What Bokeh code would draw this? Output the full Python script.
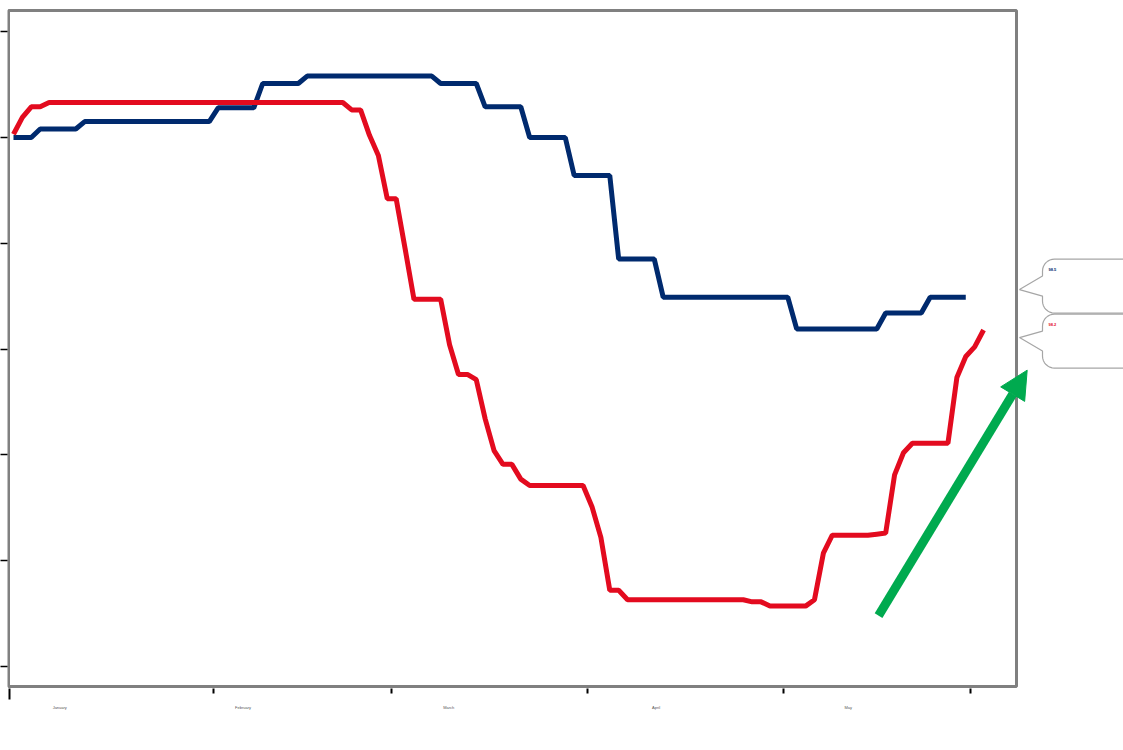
import numpy as np
from bokeh.plotting import figure
from bokeh.models import FixedTicker, LinearAxis, Range1d, Arrow, NormalHead
from bokeh.core.properties import value
from bokeh.embed import file_html
from bokeh.resources import INLINE

# Daily index levels (start = 100), one value per trading day
blue_values = (
    [100.00] * 3 + [100.08] * 5 + [100.15] * 15 + [100.28] * 5 + [100.51] * 5
    + [100.58] * 15 + [100.51] * 5 + [100.29] * 5 + [100.00] * 5 + [99.64] * 5
    + [98.85] * 5 + [98.49] * 15 + [98.19] * 10 + [98.34] * 5 + [98.49] * 5
)
red_values = (
    [100.03, 100.19, 100.29, 100.29] + [100.33] * 34
    + [100.26, 100.26, 100.02, 99.83, 99.42, 99.42, 98.95]
    + [98.47] * 4
    + [98.04, 97.76, 97.76, 97.71, 97.34, 97.04, 96.91, 96.91, 96.77]
    + [96.71] * 7
    + [96.51, 96.22, 95.72, 95.72]
    + [95.63] * 14
    + [95.61, 95.61]
    + [95.57] * 5
    + [95.63, 96.07]
    + [96.24] * 5
    + [96.25, 96.26, 96.81, 97.02]
    + [97.11] * 5
    + [97.73, 97.93, 98.02, 98.18]
)

month_names = ["January", "February", "March", "April", "May"]
month_label_pos = [5.2, 25.8, 48.9, 72.2, 93.8]
month_bounds = [-0.5, 22.5, 42.5, 64.5, 86.5, 107.5]
y_ticks = [95, 96, 97, 98, 99, 100, 101]

# trend arrow (trading-day index, index level)
arrow_from = (97.2, 95.48)
arrow_to = (113.9, 97.80)

BLUE = "#002A6E"
RED = "#E30B1F"
GREEN = "#00AA4F"
FRAME_GRAY = "#808080"

# chart box in data units
BOX_X0, BOX_X1 = -0.56, 112.70
BOX_Y0, BOX_Y1 = 94.81, 101.20
SX = 1008 / (BOX_X1 - BOX_X0)   # pixels per trading day
SY = 676 / (BOX_Y1 - BOX_Y0)    # pixels per index point

# plotting area reaches the right edge so the callouts can sit beside the box
FRAME_LEFT, FRAME_TOP, FRAME_BOTTOM, WIDTH, HEIGHT = 7, 8, 688, 1123, 750
X0 = BOX_X0 - 1 / SX
X1 = X0 + (WIDTH - FRAME_LEFT) / SX
Y1 = BOX_Y1 + 2 / SY
Y0 = Y1 - (FRAME_BOTTOM - FRAME_TOP) / SY

p = figure(width=WIDTH, height=HEIGHT,
           x_range=Range1d(X0, X1), y_range=Range1d(Y0, Y1),
           output_backend="svg", toolbar_location=None,
           min_border_left=FRAME_LEFT, min_border_right=0,
           min_border_top=FRAME_TOP, min_border_bottom=HEIGHT - FRAME_BOTTOM)
p.background_fill_color = "white"
p.border_fill_color = "white"
p.outline_line_color = None
p.xgrid.visible = False
p.ygrid.visible = False

# y axis: ticks only
yax = p.yaxis[0]
yax.ticker = FixedTicker(ticks=y_ticks, minor_ticks=[])
yax.axis_line_color = None
yax.major_tick_line_color = "black"
yax.major_tick_line_width = 1.5
yax.major_tick_out = FRAME_LEFT
yax.major_tick_in = 0
yax.major_label_overrides = {t: "" for t in y_ticks}
yax.major_label_standoff = 0

# x axis: month boundary ticks
xax = p.xaxis[0]
xax.ticker = FixedTicker(ticks=month_bounds[:1], minor_ticks=month_bounds[1:])
xax.axis_line_color = None
xax.major_tick_line_color = "black"
xax.major_tick_line_width = 2
xax.major_tick_out = 11
xax.major_tick_in = 0
xax.minor_tick_line_color = "black"
xax.minor_tick_line_width = 2
xax.minor_tick_out = 5
xax.minor_tick_in = 0
xax.major_label_overrides = {month_bounds[0]: ""}
xax.major_label_standoff = 0

# second x axis carrying the month names
month_axis = LinearAxis(
    ticker=FixedTicker(ticks=month_label_pos, minor_ticks=[]),
    major_label_overrides={pos: name for pos, name in zip(month_label_pos, month_names)},
    axis_line_color=None, major_tick_line_color=None, minor_tick_line_color=None,
    major_tick_out=0, major_tick_in=0,
    major_label_standoff=5,
    major_label_text_font_size="4px",
    major_label_text_color="#555555",
    major_label_text_font="Liberation Sans",
)
p.add_layout(month_axis, "below")

# grey chart box
p.quad(left=BOX_X0, right=BOX_X1, bottom=BOX_Y0, top=BOX_Y1,
       fill_color=None, line_color=FRAME_GRAY, line_width=3)

# the two series
p.line(np.arange(len(blue_values)), blue_values, line_width=5, line_color=BLUE)
p.line(np.arange(len(red_values)), red_values, line_width=5, line_color=RED)

# green trend arrow
p.add_layout(Arrow(
    end=NormalHead(size=28, fill_color=GREEN, line_color=GREEN, line_width=1),
    x_start=arrow_from[0], y_start=arrow_from[1],
    x_end=arrow_to[0], y_end=arrow_to[1],
    line_color=GREEN, line_width=9,
))


def callout_outline(cy, tip_y):
    """Speech-bubble outline right of the box; sizes given in pixels."""
    half_h = 27 / SY
    rx, ry = 12 / SX, 12 / SY
    left = BOX_X1 + 26 / SX
    right = BOX_X1 + 140 / SX
    tip_x = BOX_X1 + 3 / SX
    join = 10 / SY
    top, bottom = cy + half_h, cy - half_h
    xs = [left, tip_x, left]
    ys = [cy + join, tip_y, cy - join]
    t = np.linspace(np.pi, 3 * np.pi / 2, 9)
    xs += list(left + rx + rx * np.cos(t))
    ys += list(bottom + ry + ry * np.sin(t))
    xs += [right, right]
    ys += [bottom, top]
    t = np.linspace(np.pi / 2, np.pi, 9)
    xs += list(left + rx + rx * np.cos(t))
    ys += list(top - ry + ry * np.sin(t))
    return xs, ys, left, top


# end-value callouts, spread apart around the two last values
mid = (blue_values[-1] + red_values[-1]) / 2
for sign, vals, col in ((1, blue_values, BLUE), (-1, red_values, RED)):
    cy = mid + sign * 27.5 / SY
    tip_y = mid + sign * 24 / SY
    xs, ys, left, top = callout_outline(cy, tip_y)
    p.patch(xs, ys, fill_color="white", line_color="#A6A6A6", line_width=1.2)
    p.text(x=[left + 6 / SX], y=[top - 10 / SY], text=[f"{vals[-1]:.1f}"],
           text_color=col, text_font_size="4px", text_font_style="bold",
           text_font=value("Liberation Sans"),
           text_align="left", text_baseline="middle")

open("out.html", "w").write(file_html(p, INLINE))
